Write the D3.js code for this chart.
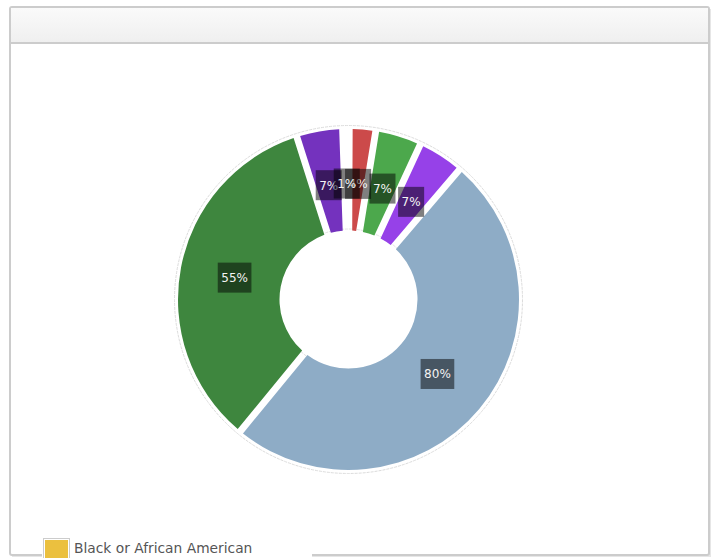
<!DOCTYPE html>
<html>
<head>
<meta charset="utf-8">
<script src="https://cdn.jsdelivr.net/npm/d3@7"></script>
<style>
  html, body { margin: 0; padding: 0; background: #fff; }
  svg { display: block; }
</style>
</head>
<body>
<svg id="chart" width="717" height="558"></svg>
<script>
// slices, clockwise from the start angle
const sliceValues = [80, 55, 7, 1, 4, 7, 7];
const sliceColors = ['#8eacc6', '#3e863e', '#7432be', '#ebc03f', '#cc4a4a', '#4ca84c', '#9641e8'];
const legendLabels = ['Black or African American'];
const legendColors = ['#ebc03f'];

const cx = 348.5;
const cy = 299.5;
const outerR = 170.5;
const innerR = 69;
const startDeg = 40.5;

const svg = d3.select('#chart');

// panel frame
const panel = { x: 10, y: 7, w: 699, h: 548, head: 36 };

const defs = svg.append('defs');
const grad = defs.append('linearGradient').attr('id', 'head-grad').attr('x1', 0).attr('y1', 0).attr('x2', 0).attr('y2', 1);
grad.append('stop').attr('offset', '0%').attr('stop-color', '#fafafa');
grad.append('stop').attr('offset', '100%').attr('stop-color', '#efefef');

// shadow
svg.append('rect')
  .attr('x', panel.x + 2).attr('y', panel.y + 2)
  .attr('width', panel.w).attr('height', panel.h)
  .attr('fill', '#e6e6e6');

svg.append('rect')
  .attr('x', panel.x).attr('y', panel.y)
  .attr('width', panel.w).attr('height', panel.h)
  .attr('rx', 2)
  .attr('fill', '#fff')
  .attr('stroke', '#cccccc')
  .attr('stroke-width', 2);

svg.append('rect')
  .attr('x', panel.x + 1).attr('y', panel.y + 1)
  .attr('width', panel.w - 2).attr('height', panel.head - 1)
  .attr('fill', 'url(#head-grad)');

svg.append('line')
  .attr('x1', panel.x).attr('x2', panel.x + panel.w)
  .attr('y1', panel.y + panel.head).attr('y2', panel.y + panel.head)
  .attr('stroke', '#cccccc').attr('stroke-width', 2);

// donut
const g = svg.append('g').attr('transform', `translate(${cx},${cy})`);

const pie = d3.pie()
  .sort(null)
  .value((d) => d)
  .startAngle(startDeg * Math.PI / 180)
  .endAngle(startDeg * Math.PI / 180 + 2 * Math.PI);

const arcs = pie(sliceValues);

const arc = d3.arc()
  .innerRadius(innerR)
  .outerRadius(outerR)
  .padRadius(outerR)
  .padAngle(0.04);

// faint shadow rings
g.append('circle')
  .attr('r', outerR + 3.5)
  .attr('fill', 'none')
  .attr('stroke', '#dcdcdc')
  .attr('stroke-width', 1)
  .attr('stroke-dasharray', '3,1');

g.append('circle')
  .attr('r', innerR + 1.5)
  .attr('fill', 'none')
  .attr('stroke', '#e2e2e2')
  .attr('stroke-width', 1)
  .attr('stroke-dasharray', '3,1');

g.append('g')
  .selectAll('path')
  .data(arcs)
  .join('path')
  .attr('d', arc)
  .attr('fill', (d, i) => sliceColors[i]);

// data labels
const labelArc = d3.arc().innerRadius(116).outerRadius(116);

const labels = g.append('g')
  .selectAll('g')
  .data(arcs)
  .join('g')
  .attr('transform', (d) => `translate(${labelArc.centroid(d)})`);

labels.append('rect');
labels.append('text')
  .attr('text-anchor', 'middle')
  .attr('dy', '0.36em')
  .attr('fill', '#f4f4f4')
  .style('font-family', '"DejaVu Sans", Verdana, sans-serif')
  .style('font-size', '12px')
  .text((d) => `${d.data}%`);

labels.each(function () {
  const sel = d3.select(this);
  const w = sel.select('text').node().getComputedTextLength() + 7;
  sel.select('rect')
    .attr('x', -w / 2).attr('y', -15)
    .attr('width', w).attr('height', 30)
    .attr('fill', 'rgba(0,0,0,0.5)');
});

// the tiny slice's label sits on top of its neighbour's
labels.filter((d, i) => i === 3).raise();

// legend, cut by the bottom edge
const legend = svg.append('g').attr('transform', 'translate(42,536)');
legend.append('rect')
  .attr('x', 0).attr('y', 0)
  .attr('width', 270).attr('height', 30)
  .attr('fill', '#fff');

legendLabels.forEach((name, i) => {
  const row = legend.append('g').attr('transform', `translate(0,${i * 24})`);
  row.append('rect')
    .attr('x', 1.5).attr('y', 2.5)
    .attr('width', 26).attr('height', 22)
    .attr('fill', '#fff')
    .attr('stroke', '#cccccc');
  row.append('rect')
    .attr('x', 3).attr('y', 4)
    .attr('width', 23).attr('height', 20)
    .attr('fill', legendColors[i]);
  row.append('text')
    .attr('x', 32).attr('y', 17)
    .attr('fill', '#555')
    .style('font-family', '"DejaVu Sans", Verdana, sans-serif')
    .style('font-size', '13.8px')
    .text(name);
});
</script>
</body>
</html>
